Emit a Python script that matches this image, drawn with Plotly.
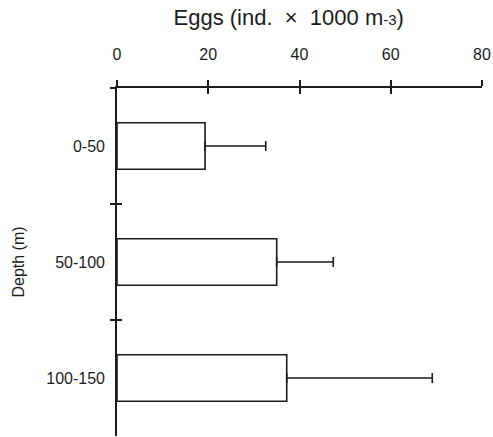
import plotly.graph_objects as go

# Egg abundance by depth stratum (mean with upper error)
depth_bins = ["0-50", "50-100", "100-150"]
egg_means = [19.3, 35.0, 37.2]
egg_err_upper = [13.3, 12.4, 31.9]
egg_ticks = [0, 20, 40, 60, 80]

INK = "#1c1c1c"
FONT = "Liberation Sans, Arial, sans-serif"

fig = go.Figure()

fig.add_trace(go.Bar(
    y=depth_bins,
    x=egg_means,
    orientation="h",
    width=0.4,
    marker=dict(color="white", line=dict(color=INK, width=1.6)),
    error_x=dict(
        type="data",
        symmetric=False,
        array=egg_err_upper,
        arrayminus=[0] * len(egg_err_upper),
        color=INK,
        thickness=1.6,
        width=5,
    ),
    showlegend=False,
    hoverinfo="skip",
))

# empty trace that carries the overlay axes used for the inward half of the ticks
fig.add_trace(go.Scatter(x=[None], y=[None], xaxis="x2", yaxis="y2",
                         showlegend=False, hoverinfo="skip"))

fig.update_layout(
    width=493,
    height=437,
    margin=dict(l=117, r=11, t=88, b=1),
    paper_bgcolor="white",
    plot_bgcolor="white",
    font=dict(family=FONT, color=INK, size=16),
    title=dict(
        text=("Eggs (ind.\u00a0\u00a0\u00d7\u00a0\u00a01000 m"
              "<span style=\"font-size:15px\">-3</span>)"),
        font=dict(size=22, family=FONT, color=INK),
        x=288.7 / 493, xref="container", xanchor="center",
        y=1 - 10 / 437, yref="container", yanchor="top",
    ),
    xaxis=dict(
        side="top",
        range=[0, 80],
        tickvals=egg_ticks,
        ticks="outside", ticklen=6, tickwidth=1.5, tickcolor=INK,
        showline=True, linecolor=INK, linewidth=1.6,
        showgrid=False, zeroline=False,
        tickfont=dict(size=16),
        ticklabelstandoff=14,
    ),
    xaxis2=dict(
        overlaying="x", side="top", anchor="y2", type="linear",
        range=[0, 80], tickvals=egg_ticks,
        ticks="inside", ticklen=6, tickwidth=1.5, tickcolor=INK,
        showticklabels=False, showline=False, showgrid=False, zeroline=False,
    ),
    yaxis=dict(
        type="category",
        categoryorder="array", categoryarray=depth_bins,
        range=[2.5, -0.5],
        tickson="boundaries",
        ticks="outside", ticklen=5, tickwidth=1.5, tickcolor=INK,
        showline=True, linecolor=INK, linewidth=1.6,
        showgrid=False, zeroline=False,
        tickfont=dict(size=16),
        ticklabelstandoff=7,
        title=dict(text="Depth (m)", font=dict(size=16), standoff=18),
    ),
    yaxis2=dict(
        overlaying="y", side="left", anchor="x2", type="linear",
        range=[2.5, -0.5], tickvals=[-0.5, 0.5, 1.5, 2.5],
        ticks="inside", ticklen=5, tickwidth=1.5, tickcolor=INK,
        showticklabels=False, showline=False, showgrid=False, zeroline=False,
    ),
)

fig.write_html("out.html")
